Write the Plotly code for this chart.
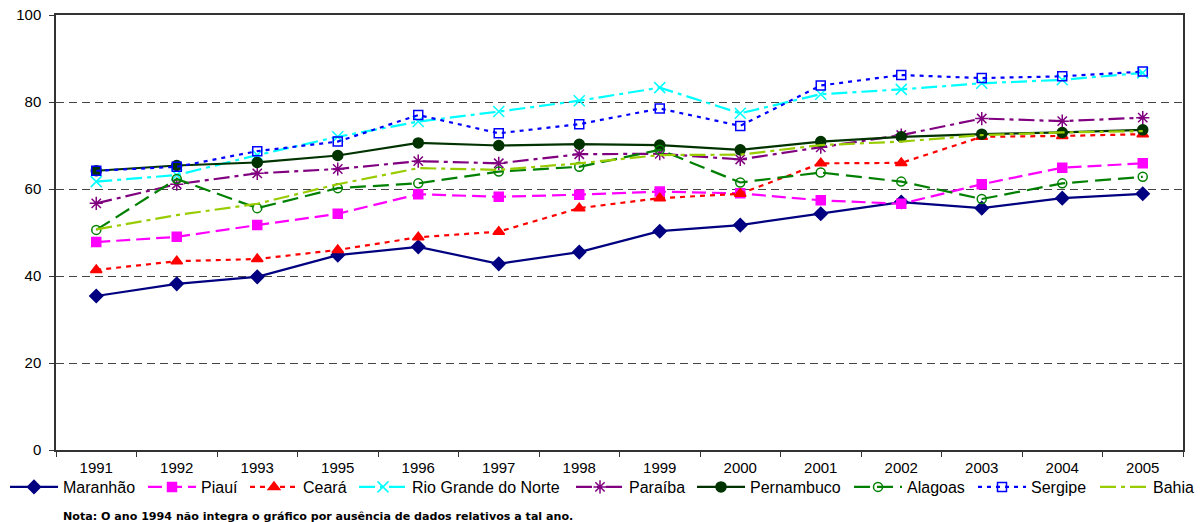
import plotly.graph_objects as go

anos = ["1991", "1992", "1993", "1995", "1996", "1997", "1998",
        "1999", "2000", "2001", "2002", "2003", "2004", "2005"]

maranhao = [35.4, 38.2, 39.8, 44.8, 46.7, 42.8, 45.5, 50.3, 51.7, 54.3, 57.0, 55.6, 57.9, 58.9]
piaui = [47.8, 49.0, 51.7, 54.3, 58.8, 58.2, 58.7, 59.4, 59.0, 57.4, 56.6, 61.1, 64.9, 65.9]
ceara = [41.4, 43.4, 43.9, 46.0, 48.9, 50.2, 55.6, 57.9, 58.9, 65.9, 66.0, 72.0, 72.2, 72.6]
rio_grande_do_norte = [61.7, 63.2, 67.8, 72.0, 75.5, 77.8, 80.3, 83.3, 77.4, 81.8, 82.9, 84.3, 85.1, 86.7]
paraiba = [56.7, 61.1, 63.6, 64.6, 66.4, 65.9, 68.0, 68.1, 66.8, 69.6, 72.4, 76.2, 75.6, 76.4]
pernambuco = [64.2, 65.4, 66.1, 67.7, 70.6, 70.0, 70.3, 70.1, 69.0, 70.9, 72.0, 72.6, 73.0, 73.6]
alagoas = [50.6, 62.3, 55.6, 60.2, 61.3, 64.0, 65.1, 69.0, 61.5, 63.8, 61.7, 57.7, 61.3, 62.8]
sergipe = [64.2, 65.1, 68.7, 70.9, 77.0, 72.8, 74.9, 78.5, 74.5, 83.8, 86.2, 85.5, 85.9, 87.0]
bahia = [50.7, 54.0, 56.6, 61.1, 64.8, 64.4, 65.9, 67.8, 67.9, 70.1, 70.9, 72.4, 73.0, 73.3]

# name, values, colour, dash, marker symbol, marker size, legend text x (px)
series = [
    ("Maranhão", maranhao, "#000080", "solid", "diamond", 10, 63),
    ("Piauí", piaui, "#FF00FF", "14px,6px", "square", 9, 201),
    ("Ceará", ceara, "#FF0000", "5px,5px", "triangle-up", 10, 303),
    ("Rio Grande do Norte", rio_grande_do_norte, "#00FFFF", "16px,5px,4px,5px", "x-thin-open", 11, 412),
    ("Paraíba", paraiba, "#800080", "16px,5px,4px,5px", "asterisk-open", 11, 629),
    ("Pernambuco", pernambuco, "#003300", "solid", "circle", 10, 750),
    ("Alagoas", alagoas, "#008000", "16px,7px", "circle-open", 9, 907),
    ("Sergipe", sergipe, "#0000FF", "4px,5px", "square-open", 9, 1031),
    ("Bahia", bahia, "#99CC00", "16px,5px,4px,5px", None, 0, 1153),
]

W, H = 1204, 522
ITEM_W = 48
TEXT_OFFSET = ITEM_W + 10  # legend left edge -> legend text start

fig = go.Figure()
legend_layouts = {}
for i, (nome, vals, cor, dash, simbolo, tam, tx) in enumerate(series):
    key = "legend" if i == 0 else f"legend{i + 1}"
    marker = dict(color=cor, size=tam, line=dict(color=cor, width=1.5))
    if simbolo:
        marker["symbol"] = simbolo
        mode = "lines+markers"
    else:
        mode = "lines"
    fig.add_trace(go.Scatter(
        x=anos, y=vals, name=nome, mode=mode, legend=key,
        line=dict(color=cor, width=2.2, dash=dash),
        marker=marker,
    ))
    legend_layouts[key] = dict(
        orientation="h", xref="container", x=(tx - TEXT_OFFSET) / W,
        xanchor="left", yref="container", y=35 / H, yanchor="middle",
        font=dict(size=16), itemwidth=ITEM_W, bgcolor="rgba(0,0,0,0)",
        borderwidth=0,
    )

fig.update_layout(
    width=W, height=H,
    margin=dict(l=56, r=21, t=15, b=72),
    paper_bgcolor="white", plot_bgcolor="white",
    font=dict(family="Liberation Sans, Arial, sans-serif", size=15, color="black"),
    showlegend=True,
    **legend_layouts,
)

fig.update_xaxes(
    type="category", range=[-0.5, len(anos) - 0.5], tickson="boundaries",
    ticks="outside", ticklen=5,
    tickcolor="#333", showline=True, linecolor="#333", linewidth=1.5,
    mirror=True, showgrid=False, tickfont=dict(size=15), automargin=False,
    ticklabelstandoff=3,
)
fig.update_yaxes(
    range=[0, 100], tickvals=[0, 20, 40, 60, 80, 100], ticks="outside",
    ticklen=5, tickcolor="#333", showline=True, linecolor="#333",
    linewidth=1.5, mirror=True, showgrid=True, gridcolor="#444",
    griddash="8px,5px", gridwidth=1, zeroline=False, tickfont=dict(size=15),
    automargin=False, ticklabelstandoff=5,
)

fig.add_annotation(
    text="<b>Nota: O ano 1994 não integra o gráfico por ausência de dados relativos a tal ano.</b>",
    xref="paper", yref="paper", x=5 / 1127, y=(450 - 516) / 435,
    xanchor="left", yanchor="middle", showarrow=False,
    font=dict(family="DejaVu Sans, sans-serif", size=11.1, color="black"),
)

fig.write_html("out.html")
